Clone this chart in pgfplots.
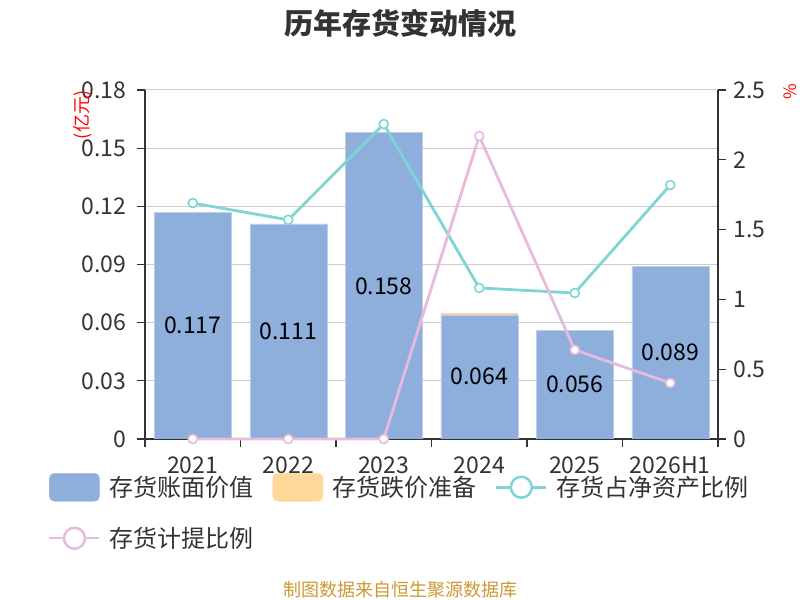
\documentclass[border=0pt]{standalone}
\usepackage{fontspec}
\setmainfont{Noto Sans CJK SC}
\usepackage{pgfplots}
\pgfplotsset{compat=1.18}
\definecolor{barblue}{RGB}{142,174,219}
\definecolor{baryellow}{RGB}{255,216,153}
\definecolor{linecyan}{RGB}{127,212,212}
\definecolor{linepink}{RGB}{232,186,220}
\definecolor{txtgray}{RGB}{51,51,51}
\definecolor{gridgray}{RGB}{204,204,204}
\definecolor{srcgold}{RGB}{204,153,51}
\newcommand{\tickfont}{\fontsize{23bp}{27bp}\selectfont}
\begin{document}
\begin{tikzpicture}
\path[use as bounding box] (0,0) rectangle (800bp,600bp);
% common settings
\pgfplotsset{
  base/.style={
    scale only axis, width=573bp, height=349bp,
    at={(145bp,161bp)}, anchor=south west,
    xmin=-0.5, xmax=5.5,
    /pgf/number format/assume math mode=true,
    ticklabel style={font=\tickfont, text=txtgray},
    axis line style={txtgray, line width=1.2bp},
    tick style={txtgray, line width=1.2bp},
    tick align=outside,
  }
}
% bars
\begin{axis}[base,
  ymin=0, ymax=0.18,
  axis x line*=bottom, axis y line*=left,
  ybar stacked, bar width=77bp,
  ytick={0,0.03,0.06,0.09,0.12,0.15,0.18},
  yticklabels={0,0.03,0.06,0.09,0.12,0.15,0.18},
  yticklabel style={xshift=-7bp},
  major tick length=8bp,
  xtick={0,1,2,3,4,5},
  xticklabels={2021,2022,2023,2024,2025,2026H1},
  xticklabel style={yshift=-6bp},
  minor xtick={-0.5,0.5,1.5,2.5,3.5,4.5,5.5},
  major x tick style={draw=none},
  minor tick length=8bp,
  ymajorgrids, grid style={gridgray, line width=1bp},
]
\addplot[fill=barblue, draw=barblue!60!white, line width=0.5bp] coordinates {(0,0.117) (1,0.111) (2,0.158) (3,0.064) (4,0.056) (5,0.089)};
\addplot[fill=baryellow, draw=none] coordinates {(0,0) (1,0) (2,0) (3,0.001) (4,0) (5,0)};
\end{axis}
% labels inside bars
\begin{axis}[base, ymin=0, ymax=0.18, axis lines=none, xtick=\empty, ytick=\empty, clip=false]
\addplot[draw=none, mark=none, nodes near coords, point meta=explicit symbolic,
  every node near coord/.style={anchor=center, font=\fontsize{23bp}{27bp}\selectfont, text=black}]
  coordinates {(0,0.0585)[0.117] (1,0.0555)[0.111] (2,0.079)[0.158] (3,0.0325)[0.064] (4,0.028)[0.056] (5,0.0445)[0.089]};
\end{axis}
% lines
\begin{axis}[base,
  ymin=0, ymax=2.5,
  axis x line=none, axis y line*=right,
  ytick={0,0.5,1,1.5,2,2.5},
  yticklabels={0,0.5,1,1.5,2,2.5},
  yticklabel style={xshift=4bp},
  major tick length=8bp,
  clip=false,
  legend columns=3,
  legend style={draw=none, fill=none, at={(-0.1693,-0.097)}, anchor=north west,
    inner sep=0pt, font=\fontsize{24bp}{28bp}\selectfont, text=txtgray,
    nodes={text width=150bp, inner sep=0pt},
    row sep=25bp,
    /tikz/every odd column/.append style={column sep=9bp},
    /tikz/every even column/.append style={column sep=13bp}},
  legend cell align=left,
]
\addlegendimage{legend image code/.code={\fill[barblue, rounded corners=5bp] (0bp,-14bp) rectangle (50bp,14bp);}}
\addlegendentry{存货账面价值}
\addlegendimage{legend image code/.code={\fill[baryellow, rounded corners=5bp] (0bp,-14bp) rectangle (50bp,14bp);}}
\addlegendentry{存货跌价准备}
\addplot[linecyan, line width=2.8bp, mark=*, mark size=4.5bp, mark options={fill=white, line width=1.6bp},
  legend image code/.code={\draw[linecyan, line width=2.5bp] (0bp,0bp) -- (50bp,0bp); \draw[linecyan, line width=2.5bp, fill=white] (25bp,0bp) circle (10.5bp);}]
  coordinates {(0,1.69) (1,1.57) (2,2.256) (3,1.082) (4,1.046) (5,1.819)};
\addlegendentry{存货占净资产比例}
\addplot[linepink, line width=2.8bp, mark=*, mark size=4.5bp, mark options={fill=white, line width=1.6bp},
  legend image code/.code={\draw[linepink, line width=2.5bp] (0bp,0bp) -- (50bp,0bp); \draw[linepink, line width=2.5bp, fill=white] (25bp,0bp) circle (10.5bp);}]
  coordinates {(0,0) (1,0) (2,0) (3,2.17) (4,0.638) (5,0.401)};
\addlegendentry{存货计提比例}
\end{axis}
% texts
\node[font=\fontsize{29bp}{34bp}\selectfont\bfseries, text=txtgray] at (400bp,577bp) {历年存货变动情况};
\node[font=\fontsize{18bp}{21bp}\selectfont, text=red, rotate=90] at (83bp,485bp) {(亿元)};
\node[font=\fontsize{17bp}{20bp}\selectfont, text=red, rotate=90] at (790bp,508bp) {\%};
\node[font=\fontsize{18bp}{21bp}\selectfont, text=srcgold] at (400bp,10bp) {制图数据来自恒生聚源数据库};
\end{tikzpicture}
\end{document}
